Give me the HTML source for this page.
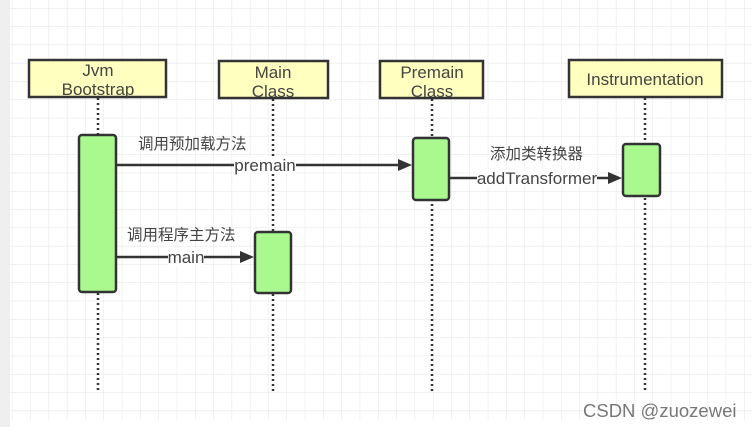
<!DOCTYPE html>
<html><head><meta charset="utf-8"><style>
body{margin:0;width:752px;height:427px;overflow:hidden;background:#fff;font-family:"Liberation Sans","Noto Sans CJK SC",sans-serif}
</style></head><body>
<svg width="752" height="427" xmlns="http://www.w3.org/2000/svg" font-family="Liberation Sans, Noto Sans CJK SC, sans-serif">
<defs>
<pattern id="g" x="12" y="8" width="18.3" height="18.3" patternUnits="userSpaceOnUse">
<path d="M0 0H18.3M0 0V18.3" stroke="#e4e4e4" stroke-width="1" fill="none"/>
</pattern>
</defs>
<rect x="10" y="0" width="742" height="420" fill="url(#g)"/>
<rect x="0" y="0" width="10" height="427" fill="#efefef"/>
<g stroke="#333" stroke-width="2.5" stroke-dasharray="2,3">
<line x1="98" y1="98" x2="98" y2="392"/>
<line x1="273" y1="99" x2="273" y2="392"/>
<line x1="432" y1="99" x2="432" y2="392"/>
<line x1="645" y1="98" x2="645" y2="392"/>
</g>
<g fill="#ffffc0" stroke="#333" stroke-width="2.5">
<rect x="29" y="60" width="137" height="37"/>
<rect x="219" y="61" width="109" height="37"/>
<rect x="380" y="61" width="103" height="37"/>
<rect x="569" y="60" width="153" height="37"/>
</g>
<g font-size="17" fill="#444" text-anchor="middle">
<text x="98" y="76">Jvm</text><text x="98" y="95">Bootstrap</text>
<text x="273" y="78">Main</text><text x="273" y="97">Class</text>
<text x="432" y="78">Premain</text><text x="432" y="97">Class</text>
<text x="645" y="85">Instrumentation</text>
</g>
<g fill="#a9f98f" stroke="#333" stroke-width="2.5">
<rect x="79" y="135" width="37" height="157" rx="3"/>
<rect x="255" y="232" width="36" height="61" rx="3"/>
<rect x="413" y="138" width="36" height="62" rx="3"/>
<rect x="623" y="144" width="37" height="52" rx="3"/>
</g>
<g stroke="#333" stroke-width="2.5">
<line x1="116" y1="165" x2="400" y2="165"/>
<line x1="116" y1="257" x2="243" y2="257"/>
<line x1="449" y1="178" x2="611" y2="178"/>
</g>
<g fill="#333">
<polygon points="412,165 398,159 398,171"/>
<polygon points="254,257 240,251 240,263"/>
<polygon points="622,178 608,172 608,184"/>
</g>
<g font-size="17" fill="#444" text-anchor="middle">
<rect x="234" y="156" width="62" height="18" fill="#fff"/>
<text x="265" y="171">premain</text>
<rect x="168" y="248" width="36" height="18" fill="#fff"/>
<text x="186" y="263">main</text>
<rect x="477" y="169" width="120" height="18" fill="#fff"/>
<text x="537" y="184">addTransformer</text>
</g>
<g font-size="15.5" fill="#444">
<text x="138" y="149">调用预加载方法</text>
<text x="127" y="240">调用程序主方法</text>
<text x="490" y="159">添加类转换器</text>
</g>
<text x="583" y="417" font-size="18.5" fill="#777">CSDN @zuozewei</text>
</svg>
</body></html>
